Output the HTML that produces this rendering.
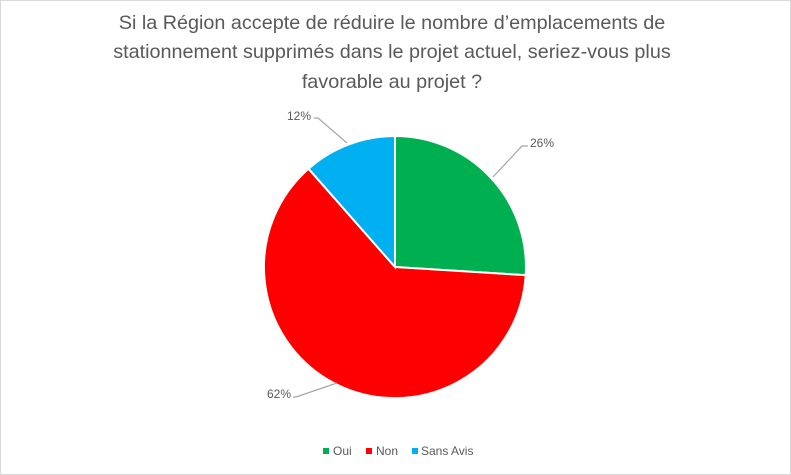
<!DOCTYPE html>
<html><head><meta charset="utf-8"><style>
body{margin:0;background:#fff}
svg{display:block;font-family:"Liberation Sans",sans-serif}
</style></head><body>
<svg width="791" height="475" viewBox="0 0 791 475">
<rect x="0.5" y="0.5" width="790" height="474" fill="#fff" stroke="#d9d9d9"/>
<g fill="#595959" font-size="19.8" text-anchor="middle">
<text x="392" y="29">Si la Région accepte de réduire le nombre d’emplacements de</text>
<text x="392" y="58">stationnement supprimés dans le projet actuel, seriez-vous plus</text>
<text x="392" y="88">favorable au projet ?</text>
</g>
<g stroke="#fff" stroke-width="2">
<path d="M395,267 L395,136 A131,131 0 0 1 525.7,275.2 Z" fill="#00b050"/>
<path d="M395,267 L525.7,275.2 A131,131 0 1 1 308.5,168.7 Z" fill="#ff0000"/>
<path d="M395,267 L308.5,168.7 A131,131 0 0 1 395,136 Z" fill="#00b0f0"/>
</g>
<g stroke="#a6a6a6" stroke-width="1.2" fill="none">
<polyline points="493,177 522,146 528,146"/>
<polyline points="347,143 318,118 314,118"/>
<polyline points="337,383 296,397 293,397"/>
</g>
<g fill="#595959" font-size="12">
<text x="530" y="147">26%</text>
<text x="287" y="120">12%</text>
<text x="267" y="398">62%</text>
<rect x="323" y="448" width="6" height="6" fill="#00b050"/>
<text x="333" y="455">Oui</text>
<rect x="366" y="448" width="6" height="6" fill="#ff0000"/>
<text x="376" y="455">Non</text>
<rect x="412" y="448" width="6" height="6" fill="#00b0f0"/>
<text x="421" y="455">Sans Avis</text>
</g>
</svg>
</body></html>
